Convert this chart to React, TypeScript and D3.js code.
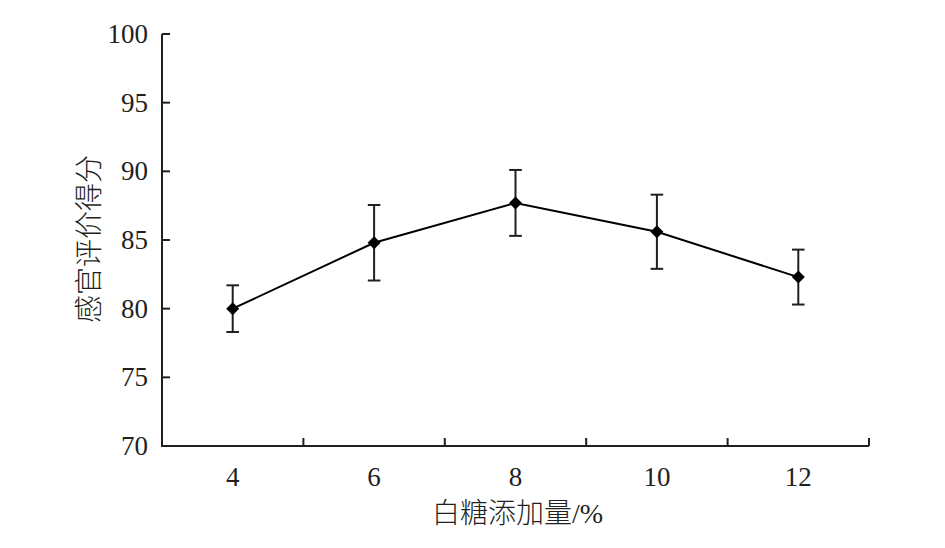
import React from "react";
import * as d3 from "d3";

const categories = ["4", "6", "8", "10", "12"];
const scores = [80.0, 84.8, 87.7, 85.6, 82.3];
const errors = [1.7, 2.75, 2.4, 2.7, 2.0];
const yTicks = [70, 75, 80, 85, 90, 95, 100];
const xTitle = "白糖添加量/%";
const yTitle = "感官评价得分";

const W = 945;
const H = 548;
const left = 162;
const right = 869;
const top = 34;
const bottom = 446;

export default function App() {
  const x = d3.scaleBand<string>().domain(categories).range([left, right]).padding(0);
  const y = d3.scaleLinear().domain([70, 100]).range([bottom, top]);
  const cx = (c: string) => (x(c) as number) + x.bandwidth() / 2;
  const line = d3
    .line<number>()
    .x((_, i) => cx(categories[i]))
    .y((d) => y(d));
  const boundaries = categories.map((c) => (x(c) as number) + x.bandwidth());
  const font = "'Liberation Serif', 'Times New Roman', serif";
  const cjk = "'Liberation Serif', 'Noto Sans CJK SC', serif";
  const ms = 6.5;
  const cap = 6.3;
  return (
    <svg width={W} height={H} style={{ position: "absolute", left: 0, top: 0, background: "#fff" }}>
      <rect width={W} height={H} fill="#fff" />
      <line x1={left} x2={left} y1={top} y2={bottom} stroke="#231f20" strokeWidth={2} />
      <line x1={left - 1} x2={right} y1={bottom} y2={bottom} stroke="#231f20" strokeWidth={2} />
      {yTicks.map((t) => (
        <g key={t}>
          <line x1={left} x2={left + 8} y1={y(t)} y2={y(t)} stroke="#231f20" strokeWidth={2} />
          <text
            x={left - 14}
            y={y(t)}
            textAnchor="end"
            dominantBaseline="central"
            fontFamily={font}
            fontSize={27}
            fill="#231f20"
          >
            {t}
          </text>
        </g>
      ))}
      {boundaries.map((b, i) => (
        <line key={i} x1={b} x2={b} y1={bottom} y2={bottom - 8} stroke="#231f20" strokeWidth={2} />
      ))}
      {categories.map((c) => (
        <text
          key={c}
          x={cx(c)}
          y={bottom + 40}
          textAnchor="middle"
          fontFamily={font}
          fontSize={27}
          fill="#231f20"
        >
          {c}
        </text>
      ))}
      <path d={line(scores) || ""} fill="none" stroke="#000" strokeWidth={2} />
      {scores.map((v, i) => {
        const px = cx(categories[i]);
        const y1 = y(v + errors[i]);
        const y2 = y(v - errors[i]);
        return (
          <g key={i} stroke="#231f20" strokeWidth={2}>
            <line x1={px} x2={px} y1={y1} y2={y2} />
            <line x1={px - cap} x2={px + cap} y1={y1} y2={y1} />
            <line x1={px - cap} x2={px + cap} y1={y2} y2={y2} />
          </g>
        );
      })}
      {scores.map((v, i) => {
        const px = cx(categories[i]);
        const py = y(v);
        return (
          <path
            key={i}
            d={`M${px},${py - ms} L${px + ms},${py} L${px},${py + ms} L${px - ms},${py} Z`}
            fill="#000"
          />
        );
      })}
      <text
        x={(left + right) / 2 + 2}
        y={523}
        textAnchor="middle"
        fontFamily={cjk}
        fontSize={28}
        fontWeight={300}
        fill="#231f20"
      >
        {xTitle}
      </text>
      <text
        transform={`translate(99, ${(153 + 325) / 2}) rotate(-90)`}
        textAnchor="middle"
        fontFamily={cjk}
        fontSize={28}
        fontWeight={300}
        fill="#231f20"
      >
        {yTitle}
      </text>
    </svg>
  );
}
